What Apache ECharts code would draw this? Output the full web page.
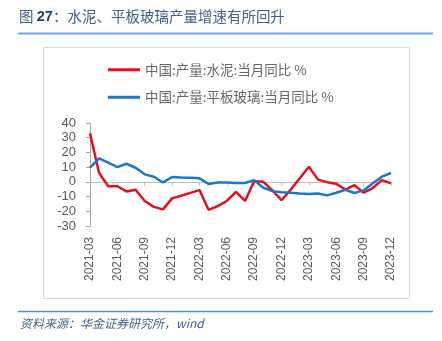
<!DOCTYPE html>
<html>
<head>
<meta charset="utf-8">
<script src="https://cdn.jsdelivr.net/npm/echarts@6/dist/echarts.min.js"></script>
<style>html,body{margin:0;padding:0;background:#fff;}#c{width:442px;height:341px;}</style>
</head>
<body>
<div id="c"></div>
<script>
var categories = [
  '2021-03','2021-04','2021-05','2021-06','2021-07','2021-08','2021-09','2021-10','2021-11','2021-12',
  '2022-01','2022-02','2022-03','2022-04','2022-05','2022-06','2022-07','2022-08','2022-09','2022-10','2022-11','2022-12',
  '2023-01','2023-02','2023-03','2023-04','2023-05','2023-06','2023-07','2023-08','2023-09','2023-10','2023-11','2023-12'
];
var cementName = '中国:产量:水泥:当月同比 %';
var glassName = '中国:产量:平板玻璃:当月同比 %';
var cement = [33, 6, -3, -3, -6.5, -5.4, -13, -17, -18.7, -11.2, -9.4, -7.5,
  -5.6, -19, -16.5, -13, -6.8, -13, 0.5, 0, -5.8, -12.5, -5.3, 2.5,
  10.3, 1.5, -0.2, -1.3, -5.3, -2.2, -7.4, -4.2, 1.2, -1];
var glass = [9.6, 16, 13, 10, 12.3, 9.6, 5.1, 3.5, -0.4, 3.3, 3, 2.8,
  2.4, -1.5, -0.4, -0.4, -0.8, -0.8, 1.2, -4, -6.3, -7, -7.4, -7.9,
  -8.3, -7.9, -9.2, -7.4, -5.4, -7.6, -5.8, -1, 3.5, 6];
var yMin = -30, yMax = 40, yStep = 10;

var cjk = '"Noto Sans CJK SC", "Liberation Sans", sans-serif';
var lat = '"Liberation Sans", Arial, sans-serif';
var chart = echarts.init(document.getElementById('c'));
chart.setOption({
  animation: false,
  backgroundColor: '#ffffff',
  grid: {left: 90, right: 51, top: 123, bottom: 115, containLabel: false},
  legend: {
    orient: 'vertical', left: 108, top: 63, itemGap: 14, padding: 0,
    itemWidth: 32, itemHeight: 3, icon: 'rect',
    textStyle: {fontFamily: cjk, fontSize: 13.5, color: '#666666'},
    data: [cementName, glassName]
  },
  xAxis: [{
    type: 'category', data: categories, boundaryGap: false,
    axisLine: {onZero: true, lineStyle: {color: '#bfbfbf', width: 1}},
    axisTick: {show: true, interval: 2, length: 4, lineStyle: {color: '#bfbfbf'}},
    axisLabel: {show: false}
  }, {
    type: 'category', data: categories, boundaryGap: false, position: 'bottom',
    axisLine: {show: false, onZero: false}, axisTick: {show: false},
    axisLabel: {interval: 2, rotate: 90, margin: 11, fontFamily: lat, fontSize: 12, color: '#595959'}
  }],
  yAxis: {
    type: 'value', min: yMin, max: yMax, interval: yStep,
    axisLine: {show: true, lineStyle: {color: '#a6a6a6'}},
    axisTick: {show: true, length: 4, lineStyle: {color: '#a6a6a6'}},
    splitLine: {show: false},
    axisLabel: {margin: 14, fontFamily: lat, fontSize: 13, color: '#595959'}
  },
  series: [{
    name: cementName, type: 'line', data: cement, symbol: 'none', xAxisIndex: 0,
    lineStyle: {color: '#e3101c', width: 2.5}, itemStyle: {color: '#e3101c'}
  }, {
    name: glassName, type: 'line', data: glass, symbol: 'none', xAxisIndex: 0,
    lineStyle: {color: '#1a78c8', width: 2.5}, itemStyle: {color: '#1a78c8'}
  }],
  graphic: [
    {type: 'rect', z: -1, shape: {x: 43.5, y: 47.5, width: 366, height: 251},
     style: {fill: 'none', stroke: '#d9d9d9', lineWidth: 1}},
    {type: 'text', left: 19, top: 9, style: {
      text: '{a|图 }{b|27}{a|：水泥、平板玻璃产量增速有所回升}',
      rich: {
        a: {fontFamily: cjk, fontSize: 14.5, fill: '#3e5f95'},
        b: {fontFamily: lat, fontSize: 14.5, fontWeight: 'bold', fill: '#1f3f7a'}
      }}},
    {type: 'line', shape: {x1: 18, y1: 33.5, x2: 433, y2: 33.5}, style: {stroke: '#6fa8dc', lineWidth: 2}},
    {type: 'line', shape: {x1: 18, y1: 311.5, x2: 433, y2: 311.5}, style: {stroke: '#4a90d0', lineWidth: 1.5}},
    {type: 'text', left: 20, top: 317, style: {
      text: '资料来源：华金证券研究所，wind', fontFamily: cjk, fontSize: 12, fontStyle: 'italic', fill: '#3e5f95'}}
  ]
});
</script>
</body>
</html>
